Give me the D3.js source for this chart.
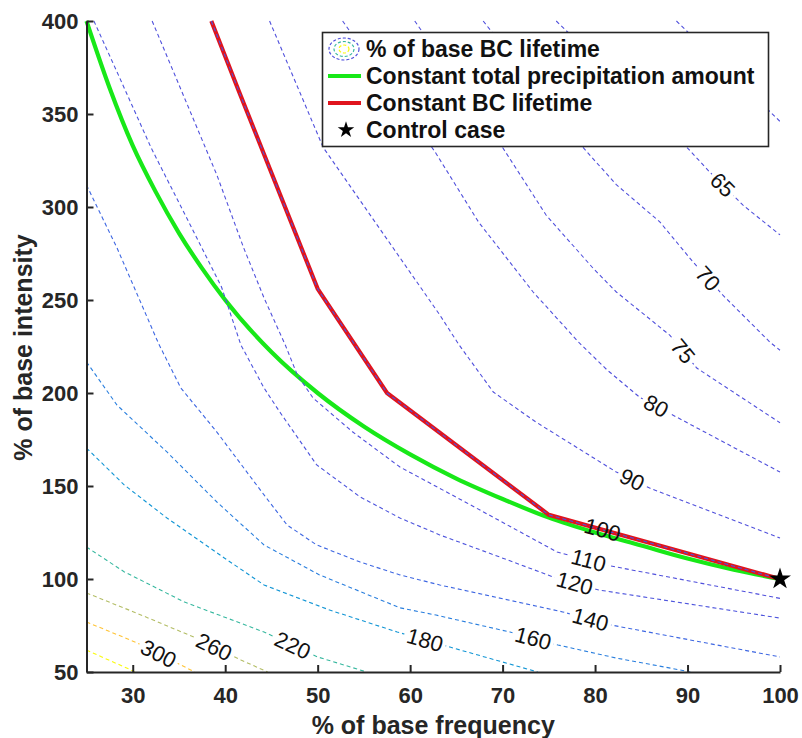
<!DOCTYPE html>
<html>
<head>
<meta charset="utf-8">
<script src="https://cdn.jsdelivr.net/npm/d3@7"></script>
<style>
  body { margin: 0; background: #fff; }
  svg { display: block; font-family: "Liberation Sans", Arial, Helvetica, sans-serif; }
</style>
</head>
<body>
<svg id="chart" width="802" height="738"></svg>
<script>
"use strict";
// axis ticks
const freqTicks = [30, 40, 50, 60, 70, 80, 90, 100];
const intensityTicks = [50, 100, 150, 200, 250, 300, 350, 400];

// constant total precipitation amount (green)
const precipFreq = [25, 27.5, 30, 32.5, 35, 37.5, 40, 45, 50, 55, 60, 65, 70, 75, 80, 85, 90, 95, 100];
const precipIntensity = [400, 364, 333, 308, 286, 267, 250, 222, 200, 182, 167, 154, 143, 133, 125, 118, 111, 105, 100];

// constant BC lifetime (red) == the 100 % contour
const lifetimeFreq = [38.5, 41.5, 50, 57.5, 75, 100];
const lifetimeIntensity = [400, 362, 256, 200, 134.5, 100];

// control case
const controlFreq = [100];
const controlIntensity = [100];

// contour lines, [frequency %, intensity %]
const contour60 = [[88.8, 400], [100, 346]];
const contour65 = [[75.8, 400], [90.0, 331.7], [92.4, 318.8], [96, 301], [100, 285]];
const contour70 = [[67.9, 400], [78.7, 332], [82.3, 312], [87, 292], [90.6, 270.4], [93.8, 252.7], [98.9, 227.4], [100, 223]];
const contour75 = [[60.5, 400], [70, 332], [74.7, 295.7], [79.8, 267], [82.3, 254.3], [88.1, 231], [91, 213.4], [100, 184]];
const contour80 = [[52.7, 400], [62.7, 329.6], [67.4, 291.9], [73.3, 254.3], [78.3, 226.9], [81.3, 212.4], [84.8, 197.8], [88.8, 187.1], [100, 157.5]];
const contour90 = [[44.8, 400], [50.6, 332], [63.2, 242], [65.3, 225.8], [69, 200.5], [73.6, 184.4], [82.3, 157.5], [85.9, 148.9], [100, 122]];
const contour110 = [[32.1, 400], [35.6, 358.6], [39.1, 317.2], [42, 278], [44.2, 251.1], [46.5, 225.8], [47.8, 209.7], [49.5, 197.3], [53.8, 179], [58.9, 160.2], [66.1, 141], [75.9, 114.5], [81.2, 107.5], [100, 89.6]];
const contour120 = [[25.8, 400], [28.3, 372.6], [32, 331.7], [36.6, 286.6], [39.6, 257], [41.7, 225.8], [44.2, 202.7], [45.9, 189.8], [49.9, 161.3], [54.6, 144.1], [58.9, 132.8], [63.2, 123.7], [69.7, 111.8], [75.8, 100.5], [80.4, 94.1], [100, 79]];
const contour140 = [[25, 311.8], [28.3, 278], [32.8, 226.5], [35.2, 202.7], [39.1, 179], [44.2, 145.2], [46.7, 129], [49.9, 118.3], [54.6, 109.1], [58.9, 102.2], [63.2, 96.8], [76.5, 82.3], [81.7, 75.3], [100, 58.1]];
const contour160 = [[25, 216.7], [28.3, 193.5], [33.7, 168.3], [39.1, 141.4], [44.2, 118.3], [50.2, 102.2], [58.9, 84.5], [62.8, 80.6], [70.8, 71.5], [76, 64.5], [82.3, 57.5], [89.2, 51.1], [90.3, 50]];
const contour180 = [[25, 170.4], [29.1, 150.5], [33.7, 132.8], [39.9, 111.3], [44.2, 96.8], [51.3, 83.3], [58.6, 71.5], [64.3, 63.4], [73.8, 50]];
const contour220 = [[25, 117.2], [29.1, 103.8], [35.6, 87.6], [44.2, 71.5], [50, 58.1], [55.3, 50]];
const contour260 = [[25, 92.5], [30.1, 82.3], [36.6, 68.8], [41.7, 56.5], [44.6, 50]];
const contour300 = [[25, 76.9], [30.5, 65.6], [35.2, 53.8], [36.7, 50]];
const contour340 = [[25, 61.8], [29.8, 51.1], [30.2, 50]];

const levels = [60, 65, 70, 75, 80, 90, 100, 110, 120, 140, 160, 180, 220, 260, 300, 340];
// frequency at which each contour carries its label (null = unlabeled)
const labelFreq = [null, 93.8, 92.2, 89.5, 86.6, 84.0, 80.8, 79.3, 77.8, 79.5, 73.3, 61.6, 47.3, 38.8, 32.8, null];

const legendLabels = ["% of base BC lifetime", "Constant total precipitation amount", "Constant BC lifetime", "Control case"];

const precipLine = precipFreq.map((f, k) => [f, precipIntensity[k]]);
const lifetimeLine = lifetimeFreq.map((f, k) => [f, lifetimeIntensity[k]]);
const contourLines = [contour60, contour65, contour70, contour75, contour80, contour90, lifetimeLine,
  contour110, contour120, contour140, contour160, contour180, contour220, contour260, contour300, contour340];

const svg = d3.select("#chart");
const x = d3.scaleLinear().domain([25, 100]).range([86.5, 780]);
const y = d3.scaleLinear().domain([50, 400]).range([672, 21]);

// parula-like, lightened at the blue end the way the thin dashes look
const palette = ["#5050dc", "#4262e2", "#2f7ae0", "#1592d8", "#0aa8c6", "#2eb7a4", "#71bf80", "#aebd67", "#e1b952", "#ffc337", "#f5de21", "#f9fb0e"];
const levelColor = d3.scaleSequential(d3.piecewise(d3.interpolateRgb, palette)).domain([115, 340]).clamp(true);

const line = d3.line().x(d => x(d[0])).y(d => y(d[1]));
const smoothLine = d3.line().x(d => x(d[0])).y(d => y(d[1])).curve(d3.curveMonotoneX);

// green + red lines first, contours are drawn over them
svg.append("path")
  .datum(precipLine)
  .attr("d", smoothLine)
  .attr("fill", "none")
  .attr("stroke", "#18e818")
  .attr("stroke-width", 4.2);

svg.append("path")
  .datum(lifetimeLine)
  .attr("d", line)
  .attr("fill", "none")
  .attr("stroke", "#e0141d")
  .attr("stroke-width", 4.2);

svg.append("g")
  .selectAll("path")
  .data(contourLines)
  .join("path")
  .attr("d", line)
  .attr("fill", "none")
  .attr("stroke", (d, k) => levelColor(levels[k]))
  .attr("stroke-width", 1.1)
  .attr("stroke-dasharray", "4,3");

function pointAt(pts, f) {
  const fx = Math.max(pts[0][0], Math.min(pts[pts.length - 1][0], f));
  for (let k = 1; k < pts.length; k++) {
    const a = pts[k - 1], b = pts[k];
    if (fx >= a[0] && fx <= b[0]) {
      const t = (fx - a[0]) / ((b[0] - a[0]) || 1);
      return [x(a[0]) + t * (x(b[0]) - x(a[0])), y(a[1]) + t * (y(b[1]) - y(a[1]))];
    }
  }
  return [x(pts[0][0]), y(pts[0][1])];
}

// contour labels
const labelG = svg.append("g");
levels.forEach((lv, k) => {
  if (labelFreq[k] == null) return;
  const pts = contourLines[k];
  const p = pointAt(pts, labelFreq[k]);
  const p1 = pointAt(pts, labelFreq[k] - 1.5);
  const p2 = pointAt(pts, labelFreq[k] + 1.5);
  const ang = Math.atan2(p2[1] - p1[1], p2[0] - p1[0]) * 180 / Math.PI;
  const g = labelG.append("g").attr("transform", `translate(${p[0]},${p[1]}) rotate(${ang})`);
  const t = g.append("text")
    .attr("text-anchor", "middle")
    .attr("dy", "0.35em")
    .style("font-size", "22px")
    .attr("fill", "#111")
    .text(lv);
  if (lv !== 100) {
    const bb = t.node().getBBox();
    g.insert("rect", "text")
      .attr("x", bb.x - 3).attr("y", bb.y + 1)
      .attr("width", bb.width + 6).attr("height", bb.height - 2)
      .attr("fill", "#fff");
  }
});

// control case star
svg.append("g")
  .selectAll("path")
  .data(controlFreq)
  .join("path")
  .attr("transform", (d, k) => `translate(${x(d)},${y(controlIntensity[k])})`)
  .attr("d", d3.symbol(d3.symbolStar, 150))
  .attr("fill", "#000");

// axes
const axisColor = "#262626";
const yAxis = svg.append("g")
  .attr("transform", `translate(${x(25)},0)`)
  .call(d3.axisLeft(y).tickValues(intensityTicks).tickSizeInner(-7).tickSizeOuter(0).tickPadding(8));
const xAxis = svg.append("g")
  .attr("transform", `translate(0,${y(50)})`)
  .call(d3.axisBottom(x).tickValues(freqTicks).tickSizeInner(-7).tickSizeOuter(0).tickPadding(15));
[xAxis, yAxis].forEach(a => {
  a.select(".domain").attr("stroke", axisColor).attr("stroke-width", 2);
  a.selectAll(".tick line").attr("stroke", axisColor).attr("stroke-width", 2);
  a.selectAll(".tick text")
    .attr("fill", axisColor)
    .style("font-family", "'Liberation Sans', Arial, sans-serif")
    .style("font-size", "22px")
    .style("font-weight", "bold");
});

svg.append("text")
  .attr("x", (x(25) + x(100)) / 2)
  .attr("y", 734)
  .attr("text-anchor", "middle")
  .style("font-size", "25px")
  .style("font-weight", "bold")
  .attr("fill", axisColor)
  .text("% of base frequency");

svg.append("text")
  .attr("transform", `translate(32,${(y(50) + y(400)) / 2 + 1}) rotate(-90)`)
  .attr("text-anchor", "middle")
  .style("font-size", "25px")
  .style("font-weight", "bold")
  .attr("fill", axisColor)
  .text("% of base intensity");

// legend
const legend = svg.append("g");
legend.append("rect")
  .attr("x", 322.5).attr("y", 32.5)
  .attr("width", 446).attr("height", 114)
  .attr("fill", "#fff")
  .attr("stroke", axisColor)
  .attr("stroke-width", 1.6);

const rowY = d => 49 + d * 27;
const icon = legend.append("g").attr("transform", `translate(344,${rowY(0)})`);
[[15, 11, 60], [10, 7.5, 220], [5, 4, 340]].forEach(e => {
  icon.append("ellipse")
    .attr("rx", e[0]).attr("ry", e[1])
    .attr("fill", "none")
    .attr("stroke", levelColor(e[2]))
    .attr("stroke-width", 1.2)
    .attr("stroke-dasharray", "3,2");
});
legend.append("line")
  .attr("x1", 328).attr("x2", 361).attr("y1", rowY(1)).attr("y2", rowY(1))
  .attr("stroke", "#18e818").attr("stroke-width", 4.2);
legend.append("line")
  .attr("x1", 328).attr("x2", 361).attr("y1", rowY(2)).attr("y2", rowY(2))
  .attr("stroke", "#e0141d").attr("stroke-width", 4.2);
legend.append("path")
  .attr("transform", `translate(346,${rowY(3)})`)
  .attr("d", d3.symbol(d3.symbolStar, 85))
  .attr("fill", "#000");

legend.selectAll("text.lab")
  .data(legendLabels)
  .join("text")
  .attr("class", "lab")
  .attr("x", 366)
  .attr("y", (d, k) => rowY(k) + 8)
  .style("font-size", "23px")
  .style("font-weight", "bold")
  .attr("fill", "#111")
  .text(d => d);
</script>
</body>
</html>
